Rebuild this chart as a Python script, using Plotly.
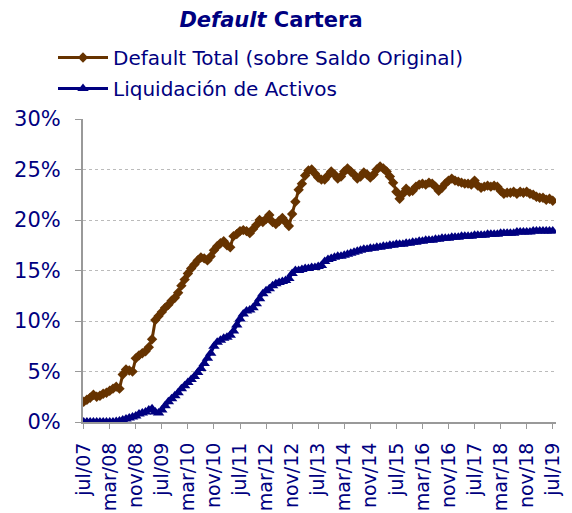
import plotly.graph_objects as go

months = ["ene", "feb", "mar", "abr", "may", "jun", "jul", "ago", "sep", "oct", "nov", "dic"]
# monthly periods jul/07 .. jul/19
period_labels = []
for k in range(145):
    m = (6 + k) % 12
    y = 7 + (6 + k) // 12
    period_labels.append(f"{months[m]}/{y:02d}")

default_total = [
    2.0, 2.2, 2.4, 2.7, 2.5, 2.6, 2.8, 2.9, 3.1, 3.3, 3.5, 3.3, 4.7, 5.2, 5.1, 5.0,
    6.3, 6.6, 6.8, 7.0, 7.4, 8.2, 10.1, 10.5, 10.9, 11.3, 11.6, 12.0, 12.3, 12.8, 13.5, 14.1,
    14.7, 15.2, 15.6, 16.0, 16.3, 16.2, 16.0, 16.4, 17.0, 17.4, 17.7, 17.9, 17.5, 17.3, 18.4, 18.6,
    18.9, 19.0, 18.9, 18.7, 19.1, 19.5, 20.0, 19.8, 20.1, 20.5, 19.8, 19.6, 19.9, 20.2, 19.8, 19.4,
    20.6, 21.8, 23.0, 23.6, 24.4, 24.9, 25.0, 24.6, 24.2, 24.0, 24.0, 24.4, 24.8, 24.5, 24.1, 24.3,
    24.8, 25.1, 24.8, 24.5, 24.1, 24.3, 24.7, 24.5, 24.2, 24.5, 25.0, 25.3, 25.1, 24.8, 24.3, 23.7,
    22.8, 22.1, 22.6, 23.1, 22.8, 22.9, 23.3, 23.5, 23.6, 23.5, 23.7, 23.6, 23.3, 22.9, 23.2, 23.6,
    23.9, 24.1, 23.9, 23.8, 23.7, 23.6, 23.6, 23.5, 23.9, 23.4, 23.2, 23.3, 23.4, 23.3, 23.4, 23.3,
    22.9, 22.6, 22.7, 22.7, 22.8, 22.6, 22.8, 22.7, 22.8, 22.6, 22.5, 22.3, 22.2, 22.2, 22.0, 22.1,
    21.9,
]

liquidacion = [
    0.0, 0.0, 0.0, 0.0, 0.0, 0.0, 0.0, 0.0, 0.0, 0.0, 0.05, 0.1, 0.2, 0.3, 0.4, 0.5,
    0.6, 0.8, 0.9, 1.0, 1.2, 1.3, 1.0, 0.9, 1.2, 1.6, 2.0, 2.3, 2.6, 2.9, 3.3, 3.6,
    3.9, 4.2, 4.5, 4.9, 5.3, 5.8, 6.3, 6.8, 7.5, 7.9, 8.1, 8.3, 8.4, 8.6, 9.0, 9.6,
    10.2, 10.7, 11.0, 11.1, 11.3, 11.7, 12.2, 12.7, 13.0, 13.2, 13.5, 13.7, 13.8, 13.9, 14.0, 14.2,
    14.7, 15.0, 15.0, 15.1, 15.2, 15.2, 15.3, 15.3, 15.4, 15.5, 15.9, 16.1, 16.2, 16.3, 16.4, 16.4,
    16.5, 16.6, 16.7, 16.8, 16.9, 17.0, 17.1, 17.1, 17.2, 17.2, 17.3, 17.3, 17.4, 17.4, 17.5, 17.5,
    17.6, 17.6, 17.6, 17.7, 17.7, 17.8, 17.8, 17.9, 17.9, 18.0, 18.0, 18.0, 18.1, 18.1, 18.2, 18.2,
    18.2, 18.3, 18.3, 18.3, 18.4, 18.4, 18.4, 18.4, 18.5, 18.5, 18.5, 18.5, 18.6, 18.6, 18.6, 18.6,
    18.7, 18.7, 18.7, 18.7, 18.7, 18.8, 18.8, 18.8, 18.8, 18.8, 18.9, 18.9, 18.9, 18.9, 18.9, 18.9,
    18.9,
]

tick_positions = list(range(0, 145, 8))
tick_labels = [period_labels[i] for i in tick_positions]
y_ticks = [0, 5, 10, 15, 20, 25, 30]
y_tick_labels = [f"{v}%" for v in y_ticks]

navy = "#000080"
brown = "#663300"
font_family = "DejaVu Sans, Verdana, sans-serif"

x = list(range(len(period_labels)))

W, H = 572, 513

fig = go.Figure()
fig.add_trace(go.Scatter(
    x=x, y=default_total, mode="lines+markers",
    name="Default Total (sobre Saldo Original)",
    legendgroup="a",
    line=dict(color=brown, width=3),
    marker=dict(symbol="diamond", size=8, color=brown),
    customdata=period_labels,
    hovertemplate="%{customdata}: %{y:.1f}%<extra></extra>",
))
fig.add_trace(go.Scatter(
    x=x, y=liquidacion, mode="lines+markers",
    name="Liquidación de Activos",
    legendgroup="b",
    line=dict(color=navy, width=3),
    marker=dict(symbol="triangle-up", size=10, color=navy),
    customdata=period_labels,
    hovertemplate="%{customdata}: %{y:.1f}%<extra></extra>",
))

fig.update_layout(
    width=W, height=H,
    paper_bgcolor="white", plot_bgcolor="white",
    margin=dict(l=75, r=24, t=111, b=99, autoexpand=False),
    font=dict(family=font_family, color=navy),
    title=dict(
        text="<b><i>Default</i> Cartera</b>",
        font=dict(size=21, color=navy, family=font_family),
        x=263 / W, xref="container", xanchor="center",
        y=1 - 12 / H, yref="container", yanchor="middle",
    ),
    legend=dict(
        x=45 / W, xref="container", xanchor="left",
        y=1 - 30 / H, yref="container", yanchor="top",
        font=dict(size=20, color=navy, family=font_family),
        bgcolor="rgba(0,0,0,0)",
        itemwidth=50,
        tracegroupgap=2,
    ),
    showlegend=True,
)

fig.update_xaxes(
    range=[-0.2, 145.0],
    tickmode="array", tickvals=tick_positions, ticktext=tick_labels,
    tickangle=-90,
    tickfont=dict(size=19, color=navy, family=font_family),
    ticks="outside", ticklen=5, tickcolor="#999999", tickwidth=1,
    ticklabelstandoff=6,
    showline=True, linecolor="#999999", linewidth=2,
    showgrid=False, zeroline=False,
)
fig.update_yaxes(
    range=[0, 30],
    tickmode="array", tickvals=y_ticks, ticktext=y_tick_labels,
    tickfont=dict(size=21, color=navy, family=font_family),
    ticks="outside", ticklen=6, tickcolor="#999999", tickwidth=1,
    ticklabelstandoff=10,
    showline=True, linecolor="#999999", linewidth=2,
    showgrid=True, gridcolor="#bbbbbb", griddash="dot", gridwidth=1,
    zeroline=False,
)

fig.write_html("out.html")
